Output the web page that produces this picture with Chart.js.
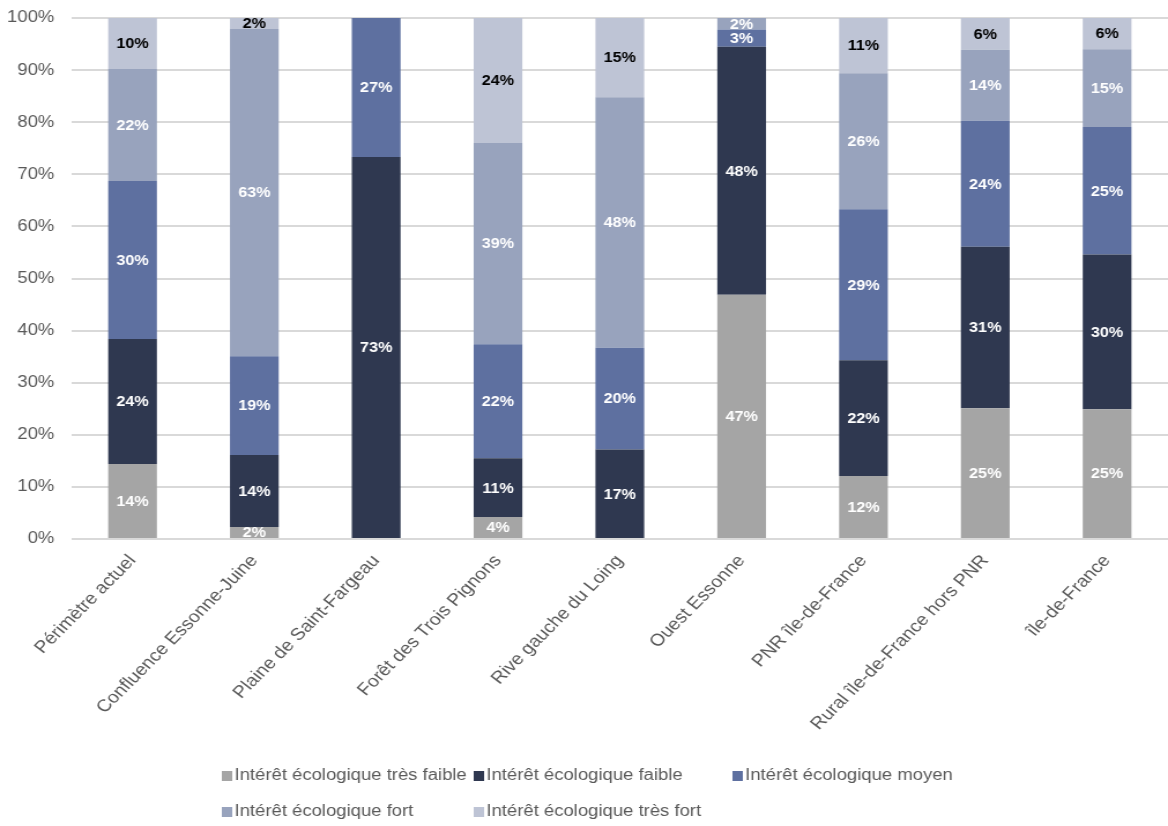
<!DOCTYPE html>
<html>
<head>
<meta charset="utf-8">
<script src="https://cdn.jsdelivr.net/npm/chart.js@4.4.1/dist/chart.umd.min.js"></script>
<style>
    body { margin: 0; background: #fff; }
    #wrap { width: 1168px; height: 826px; overflow: hidden; }
</style>
</head>
<body>
<div id="wrap">
    <!-- drawn narrower and stretched wide, the source text is set wide like this -->
    <canvas id="chart" width="1011" height="826" style="width:1168px;height:826px;"></canvas>
</div>
<script>
const categories = [
    'Périmètre actuel',
    'Confluence Essonne-Juine',
    'Plaine de Saint-Fargeau',
    'Forêt des Trois Pignons',
    'Rive gauche du Loing',
    'Ouest Essonne',
    'PNR île-de-France',
    'Rural île-de-France hors PNR',
    'île-de-France'
];

const seriesNames = [
    'Intérêt écologique très faible',
    'Intérêt écologique faible',
    'Intérêt écologique moyen',
    'Intérêt écologique fort',
    'Intérêt écologique très fort'
];

const tresFaible = [14.4, 2.3, 0, 4.2, 0, 46.9, 12.1, 25.1, 24.9];
const faible = [24.0, 13.8, 73.3, 11.3, 17.2, 47.6, 22.2, 31.0, 29.7];
const moyen = [30.3, 19.0, 26.7, 21.9, 19.5, 3.3, 29.0, 24.2, 24.5];
const fort = [21.5, 62.8, 0, 38.6, 48.1, 2.2, 26.1, 13.6, 14.9];
const tresFort = [9.8, 2.1, 0, 24.0, 15.2, 0, 10.6, 6.1, 6.0];

const seriesColors = ['#a5a5a5', '#2f3850', '#5e70a0', '#98a3bd', '#bec4d5'];
const labelColors = ['#ffffff', '#ffffff', '#ffffff', '#ffffff', '#000000'];

const FONT = '"Liberation Sans", Arial, sans-serif';

// labels in the middle of each segment
const segmentLabels = {
    id: 'segmentLabels',
    afterDatasetsDraw(chart) {
        const ctx = chart.ctx;
        ctx.save();
        ctx.font = 'bold 14px ' + FONT;
        ctx.textAlign = 'center';
        ctx.textBaseline = 'middle';
        chart.data.datasets.forEach((ds, i) => {
            const meta = chart.getDatasetMeta(i);
            meta.data.forEach((bar, j) => {
                const v = ds.data[j];
                if (!v) return;
                const p = bar.getCenterPoint();
                ctx.fillStyle = labelColors[i];
                ctx.fillText(Math.round(v) + '%', p.x, p.y + 1);
            });
        });
        ctx.restore();
    }
};

// excel style legend: fixed columns, two rows
const gridLegend = {
    id: 'gridLegend',
    afterDraw(chart) {
        const ctx = chart.ctx;
        const cols = [192, 410, 634];
        const rows = [776, 812];
        ctx.save();
        ctx.font = '16px ' + FONT;
        ctx.textBaseline = 'middle';
        ctx.textAlign = 'left';
        chart.data.datasets.forEach((ds, i) => {
            const x = cols[i % 3];
            const y = rows[Math.floor(i / 3)];
            ctx.fillStyle = ds.backgroundColor;
            ctx.fillRect(x, y - 5, 9, 10);
            ctx.fillStyle = '#595959';
            ctx.fillText(ds.label, x + 11, y);
        });
        ctx.restore();
    }
};

const seriesData = [tresFaible, faible, moyen, fort, tresFort];

new Chart(document.getElementById('chart').getContext('2d'), {
    type: 'bar',
    data: {
        labels: categories,
        datasets: seriesData.map((d, i) => ({
            label: seriesNames[i],
            data: d,
            backgroundColor: seriesColors[i],
            borderWidth: 0,
            categoryPercentage: 1,
            barPercentage: 0.4
        }))
    },
    options: {
        responsive: false,
        animation: false,
        devicePixelRatio: 1,
        layout: { padding: { top: 18, right: 0, left: 0, bottom: 0 } },
        plugins: {
            legend: { display: false },
            tooltip: { enabled: false }
        },
        scales: {
            x: {
                stacked: true,
                grid: { display: false },
                border: { display: false },
                ticks: {
                    color: '#595959',
                    font: { family: FONT, size: 17 },
                    maxRotation: 49,
                    minRotation: 49,
                    autoSkip: false,
                    padding: 4
                },
                afterFit(scale) {
                    scale.height = 287;
                    scale.paddingTop = 0;
                }
            },
            y: {
                stacked: true,
                min: 0,
                max: 100,
                grid: { color: '#d9d9d9', lineWidth: 2, drawTicks: false },
                border: { display: false },
                ticks: {
                    stepSize: 10,
                    color: '#595959',
                    font: { family: FONT, size: 16 },
                    padding: 15,
                    callback: v => v + '%'
                },
                afterFit(scale) {
                    scale.width = 62;
                    scale.paddingTop = 0;
                    scale.paddingBottom = 0;
                }
            }
        }
    },
    plugins: [segmentLabels, gridLegend]
});
</script>
</body>
</html>
